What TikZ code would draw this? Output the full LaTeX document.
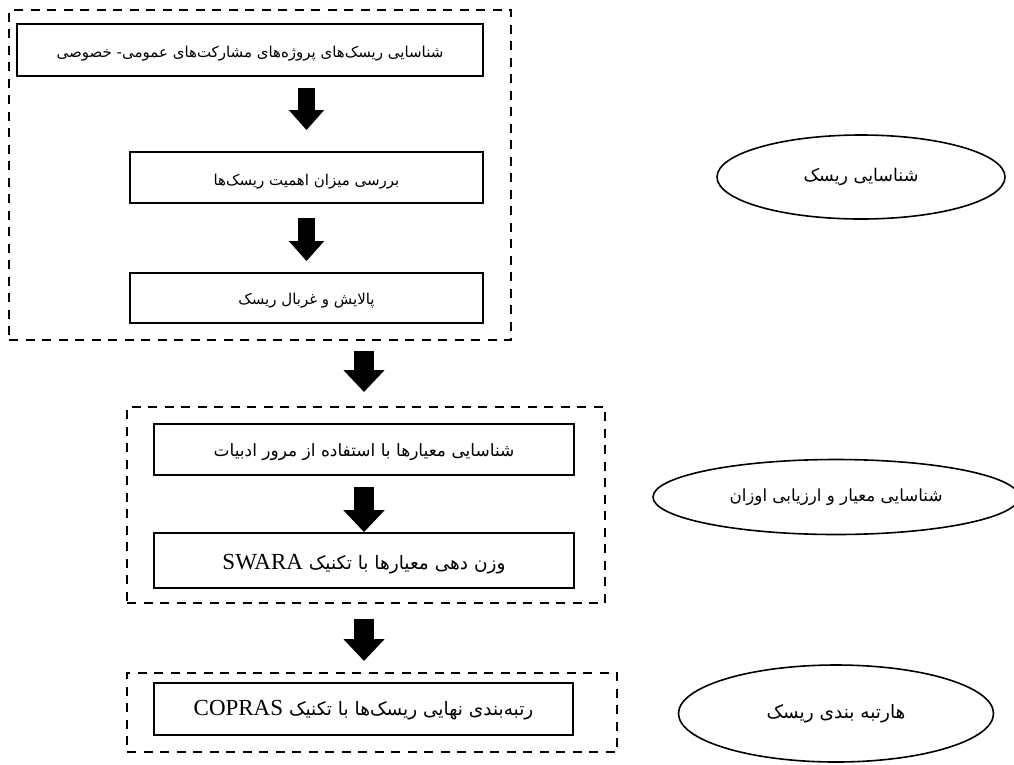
\documentclass[tikz,border=0pt]{standalone}
\usepackage{fontspec}
\setmainfont{Liberation Serif}
\newfontfamily\fafont[Script=Arabic]{DejaVu Sans}
\newfontfamily\latinfont{Liberation Serif}
\TeXXeTstate=1
\usetikzlibrary{arrows.meta,shapes.geometric}
\newcommand{\lowerby}[2]{\raisebox{-#1pt}[\height][\depth]{#2}}
\newcommand{\lat}[1]{{\latinfont\fontsize{23}{24}\selectfont #1}}
\newcommand{\fs}[1]{\fafont\fontsize{#1}{20}\selectfont}
\begin{document}
\begin{tikzpicture}[x=1pt,y=-1pt,
  stepbox/.style={draw, line width=1.8pt, inner sep=0pt, font=\fs{16}},
  framebox/.style={draw, line width=2pt, dash pattern=on 9pt off 7.5pt, inner sep=0pt},
  phase/.style={draw, ellipse, line width=1.6pt, inner sep=0pt, font=\fs{17}},
  arrA/.style={line width=17pt, -{Triangle[width=34pt,length=20pt]}},
  arrB/.style={line width=20pt, -{Triangle[width=40pt,length=22pt]}}
]
\useasboundingbox (0,0) rectangle (1014,764);
\fill[white] (0,0) rectangle (1014,764);

% dashed frames
\node[framebox, minimum width=502pt, minimum height=330pt] (f1) at (260,175) {};
\node[framebox, minimum width=478pt, minimum height=196pt] (f2) at (366,505) {};
\node[framebox, minimum width=490pt, minimum height=79pt] (f3) at (372,712.5) {};

% step boxes
\node[stepbox, minimum width=466pt, minimum height=52pt, font=\fs{15}] (b1) at (250,50) {\lowerby{4}{\beginR شناسایی ریسک‌های پروژه‌های مشارکت‌های عمومی- خصوصی\endR}};
\node[stepbox, minimum width=353pt, minimum height=51pt, font=\fs{15}] (b2) at (306.5,177.5) {\lowerby{4}{\beginR بررسی میزان اهمیت ریسک‌ها\endR}};
\node[stepbox, minimum width=353pt, minimum height=50pt, font=\fs{15}] (b3) at (306.5,298) {\lowerby{3}{\beginR پالایش و غربال ریسک\endR}};
\node[stepbox, minimum width=420pt, minimum height=51pt, font=\fs{17}] (b4) at (364,449.5) {\lowerby{3}{\beginR شناسایی معیارها با استفاده از مرور ادبیات\endR}};
\node[stepbox, minimum width=420pt, minimum height=55pt, font=\fs{18.5}] (b5) at (364,560.5) {\lowerby{4}{\beginR وزن دهی معیارها با تکنیک \beginL\lat{SWARA}\endL\endR}};
\node[stepbox, minimum width=419pt, minimum height=52pt, font=\fs{18.5}] (b6) at (363.5,709) {\lowerby{1}{\beginR رتبه‌بندی نهایی ریسک‌ها با تکنیک \beginL\lat{COPRAS}\endL\endR}};

% phase ellipses
\node[phase, minimum width=288pt, minimum height=84pt, font=\fs{17.5}] (e1) at (861,177) {\beginR شناسایی ریسک\endR};
\node[phase, minimum width=366pt, minimum height=75pt, font=\fs{16.7}] (e2) at (836,497) {\beginR شناسایی معیار و ارزیابی اوزان\endR};
\node[phase, minimum width=315pt, minimum height=97pt, font=\fs{18.5}] (e3) at (836,713.5) {\beginR هارتبه بندی ریسک\endR};

% block arrows
\draw[arrA, shorten <=11pt, shorten >=21pt] (b1.south -| b2.north) -- (b2.north);
\draw[arrA, shorten <=14pt, shorten >=11pt] (b2.south) -- (b3.north);
\draw[arrB, shorten <=10pt, shorten >=14pt] (f1.south -| b4.north) -- (f2.north -| b4.north);
\draw[arrB, shorten <=11pt, shorten >=0pt] (b4.south) -- (b5.north);
\draw[arrB, shorten <=30pt, shorten >=11pt] (b5.south) -- (f3.north -| b5.south);
\end{tikzpicture}
\end{document}
